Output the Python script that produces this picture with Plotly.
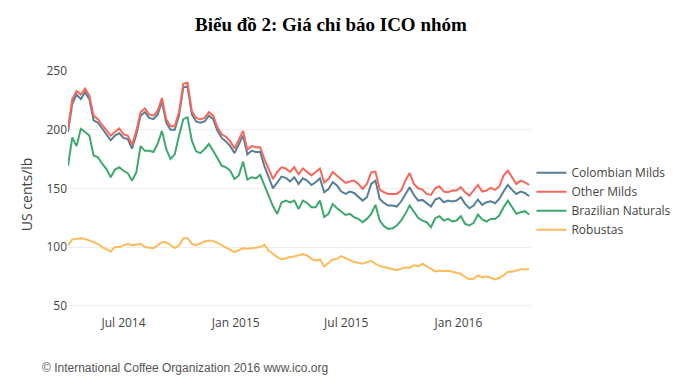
import pandas as pd
import plotly.graph_objects as go

# Weekly dates (Tuesdays) from 1 Apr 2014, 109 observations
dates = pd.date_range("2014-04-01", periods=109, freq="7D")

colombian_milds = [
    198, 222, 230, 226, 232, 226, 208, 206, 201, 196, 191, 195, 197, 193, 192, 184, 196, 212, 215, 210, 209, 213, 224, 206, 200, 200,
    212, 236, 237, 213, 207, 206, 207, 212, 209, 199, 193, 190, 186, 180, 187, 195, 179, 182, 181, 181, 169, 160, 150, 155, 160, 159, 156,
    159.5, 153.8, 158.6, 156.6, 152.9, 155.2, 158.6, 146.7, 149.5, 155.2, 152.4, 147.3, 145.3, 147.3, 146.1, 143, 139.6, 142.5, 153.8, 156.6, 141, 137.6, 135.4, 135.4, 134.5, 138.8, 145.3,
    151, 144.4, 139.6, 140.2, 137.6, 134.5, 140.5, 141.9, 138.2, 139.6, 138.8, 139.6, 142.5, 136.8, 133.1, 135.4, 140.5, 136, 138.2, 139.1, 137.4, 141, 147.3, 153, 148.7, 145.3, 147.3, 146.1, 143.3,
]
other_milds = [
    201, 226, 233, 230, 235, 229, 212, 209, 204, 199, 195, 198, 201, 196, 195, 187, 199, 215, 218, 213, 212, 216, 227, 209, 203, 203,
    215, 239, 240, 216, 210, 209, 210, 215, 212, 202, 196, 194, 190, 184, 191, 199, 183, 186, 185, 185, 175, 167, 158, 164, 168, 167, 164,
    168, 162, 167, 164, 161, 164, 167, 155, 158, 164, 161, 157.5, 154.6, 155.8, 156.6, 153.8, 149.5, 153.8, 163.7, 164.3, 149, 146.7, 145.3, 145.3, 145.3, 148.1, 156.6,
    163.1, 153.8, 150.1, 149, 145.3, 144.4, 150.1, 151.8, 147.3, 146.7, 148.1, 148.1, 151, 146.7, 143.9, 148.1, 153, 147.3, 148.1, 150.4, 148.7, 151.8, 160.9, 165.1, 159.5, 153.8, 156.6, 155.2, 153,
]
brazilian_naturals = [
    169, 193.5, 186, 200.6, 198, 195, 178, 176.5, 171, 166.5, 159.5, 166, 168, 165, 163, 156.6, 163.7, 186, 182, 182, 181, 188, 199, 183.6, 175, 179,
    195, 209, 210.5, 190.6, 181.6, 180, 183.6, 187.8, 182, 175.6, 169.4, 168, 165, 158, 161, 172.8, 157.5, 159.5, 158.6, 161.5, 152.4, 144, 134.8, 128.3, 138, 139.6, 138,
    139.6, 132.5, 139.6, 137.6, 134, 134, 139.6, 125.5, 128.3, 136.8, 133.1, 130.6, 127.4, 128.3, 125.5, 124, 121.2, 124, 128.3, 136, 122.6, 117.8, 115.5, 116.1, 118.4, 122.6, 128.3,
    135.4, 129.7, 124.9, 122.6, 121.2, 117, 124.6, 126.3, 122.6, 124, 121.8, 122.6, 126.3, 119.8, 118.4, 120.6, 127.7, 123.5, 121.8, 124, 124, 126.9, 134, 139.6, 134, 128.3, 129.7, 130.6, 127.7,
]
robustas = [
    101.4, 106.5, 107, 107.6, 107, 105.6, 104.2, 102.8, 100, 98, 96.3, 100, 100, 101.4, 102.8, 101.4, 102, 102.8, 100, 99.4, 99.1, 101.4, 104.2, 104.2, 101.4, 99.1,
    101.4, 107.6, 107.6, 102.8, 101.4, 103.3, 104.8, 105.6, 105.3, 103.6, 101.4, 99.7, 97.7, 95.7, 97.4, 99.1, 98.5, 99.1, 99.1, 100, 102, 97.1, 94.3, 91.5, 89.5, 90.6, 91.5,
    92, 92.9, 94, 92.9, 90, 88.6, 89.5, 83.5, 86.6, 89.5, 90, 92.3, 90.6, 88.6, 87.2, 86.6, 85.8, 87.2, 88.3, 85.8, 83.8, 83, 82.1, 81.5, 80.4, 81.5, 82.7,
    82.5, 84.4, 83.5, 85.8, 83.5, 81.2, 79.3, 80.1, 79.5, 79.8, 79, 78.7, 77.3, 74.4, 72.7, 73, 75.8, 74.4, 75, 73.9, 72.4, 73.9, 75.8, 79, 79, 80.1, 81.2, 81, 81.5,
]

series = [
    ("Colombian Milds", colombian_milds, "#557f99"),
    ("Other Milds", other_milds, "#f7675a"),
    ("Brazilian Naturals", brazilian_naturals, "#3fa86e"),
    ("Robustas", robustas, "#fdbb5c"),
]

title_text = "Biểu đồ 2: Giá chỉ báo ICO nhóm"
footer_text = "© International Coffee Organization 2016 www.ico.org"
y_title = "US cents/lb"
y_ticks = [50, 100, 150, 200, 250]

fig = go.Figure()
for name, vals, col in series:
    fig.add_trace(go.Scatter(x=dates, y=vals, mode="lines", name=name,
                             line=dict(color=col, width=2)))

# The page body adds an 8px offset, so the figure is 8px smaller than the window.
fig.update_layout(
    width=674, height=378,
    margin=dict(l=60, r=151, t=63, b=72, autoexpand=False),
    paper_bgcolor="white", plot_bgcolor="white",
    font=dict(family="Open Sans", size=12, color="#444"),
    showlegend=True,
    legend=dict(x=1.001, xanchor="left", y=0.641, yanchor="top",
                font=dict(family="Open Sans", size=12, color="#444"),
                bgcolor="rgba(0,0,0,0)"),
    xaxis=dict(range=["2014-04-01", "2016-04-29"], showgrid=False, zeroline=False,
               showline=False, ticks="", tickformat="%b %Y",
               tickfont=dict(size=12, color="#444")),
    yaxis=dict(range=[43, 250], tickvals=y_ticks, showgrid=True, gridcolor="#eeeeee",
               zeroline=False, showline=False, ticks="",
               tickfont=dict(size=12, color="#444")),
    annotations=[
        dict(text="<b>" + title_text + "</b>", xref="paper", yref="paper",
             x=0.569, y=1.19, xanchor="center", yanchor="middle", showarrow=False,
             font=dict(family="Liberation Serif", size=19, color="#000")),
        dict(text=y_title, xref="paper", yref="paper", textangle=-90,
             x=-0.0899, y=0.4947, xanchor="center", yanchor="middle", showarrow=False,
             font=dict(family="Open Sans", size=14, color="#444")),
        dict(text=footer_text, xref="paper", yref="paper",
             x=-0.0611, y=-0.224, xanchor="left", yanchor="middle", showarrow=False,
             font=dict(family="Liberation Sans", size=12, color="#555")),
    ],
)

fig.write_html("out.html")
